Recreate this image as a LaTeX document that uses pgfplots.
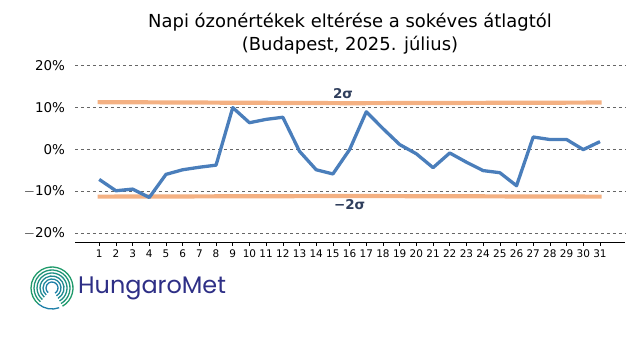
\documentclass[border=0pt]{standalone}
\usepackage{pgfplots}
\pgfplotsset{compat=1.18}
\usepackage{fontspec}
\setmainfont{DejaVu Sans}
\newfontfamily\logofont{Poppins}
\definecolor{blueline}{HTML}{4A7EBB}
\definecolor{orangeline}{HTML}{F4B183}
\definecolor{sigmacol}{HTML}{2F3E5C}
\definecolor{navy}{HTML}{2E2F86}
\definecolor{teal1}{HTML}{1E7FA8}
\definecolor{green1}{HTML}{1F9A6A}
\begin{document}
\begin{tikzpicture}[x=1bp,y=1bp]
\useasboundingbox (0,0) rectangle (640,360);
\begin{axis}[
  at={(75bp,118bp)}, anchor=south west,
  scale only axis, width=550bp, height=184.8bp,
  xmin=-0.45, xmax=32.5, ymin=-22, ymax=22,
  axis x line*=bottom, axis y line*=left,
  y axis line style={draw=none},
  x axis line style={line width=0.8pt},
  xtick={1,...,31},
  xtick style={draw=black, line width=0.6pt},
  tick align=outside, major tick length=3.5bp,
  ytick={-20,-10,0,10,20},
  yticklabels={$-$20\%,$-$10\%,0\%,10\%,20\%},
  ytick style={draw=none},
  ymajorgrids, grid style={dashed, gray!80!black, line width=0.6pt},
  tick label style={font=\fontsize{13.5}{15}\selectfont},
  x tick label style={font=\fontsize{10.5}{12}\selectfont, yshift=-1bp},
  y tick label style={xshift=-3bp},
  /pgf/number format/assume math mode=true,
  clip=false,
]
\addplot[orangeline, line width=4.2bp] coordinates {(0.9,11.3) (16,11.05) (31.1,11.2)};
\addplot[orangeline, line width=4.2bp] coordinates {(0.9,-11.2) (16,-11.05) (31.1,-11.2)};
\addplot[blueline, line width=3.3bp, line join=round] coordinates {
(1,-7.1) (2,-9.8) (3,-9.4) (4,-11.4) (5,-5.9) (6,-4.8) (7,-4.2) (8,-3.7)
(9,10) (10,6.4) (11,7.2) (12,7.7) (13,-0.4) (14,-4.8) (15,-5.8) (16,0)
(17,9) (18,5.0) (19,1.2) (20,-1) (21,-4.3) (22,-0.8) (23,-3.0) (24,-5.0)
(25,-5.5) (26,-8.6) (27,3.0) (28,2.4) (29,2.4) (30,0) (31,1.9)};
\node[font=\bfseries\fontsize{13.5}{15}\selectfont, text=sigmacol] at (axis cs:15.6,13.3) {2σ};
\node[font=\bfseries\fontsize{13.5}{15}\selectfont, text=sigmacol] at (axis cs:16.0,-13.0) {−2σ};
\end{axis}
\node[font=\fontsize{18}{21}\selectfont, align=center] at (350,338) {Napi ózonértékek eltérése a sokéves átlagtól};
\node[font=\fontsize{18}{21}\selectfont, align=center] at (350,315) {(Budapest, 2025. július)};
% logo
\node[anchor=west, text=navy, font=\logofont\fontsize{24}{26}\selectfont, inner sep=0pt] at (78,72) {HungaroMet};
\foreach \r/\c in {6/teal1,9/teal1!80!green1,12/teal1!60!green1,15/teal1!40!green1,18/teal1!20!green1,21/green1}{
  \draw[\c, line width=1.3bp] (52,72) ++(-60:\r) arc[start angle=-60, end angle=230, radius=\r];
}
\draw[teal1, line width=1.3bp] (52,72) ++(230:21) arc[start angle=230, end angle=290, radius=21];
\end{tikzpicture}
\end{document}
